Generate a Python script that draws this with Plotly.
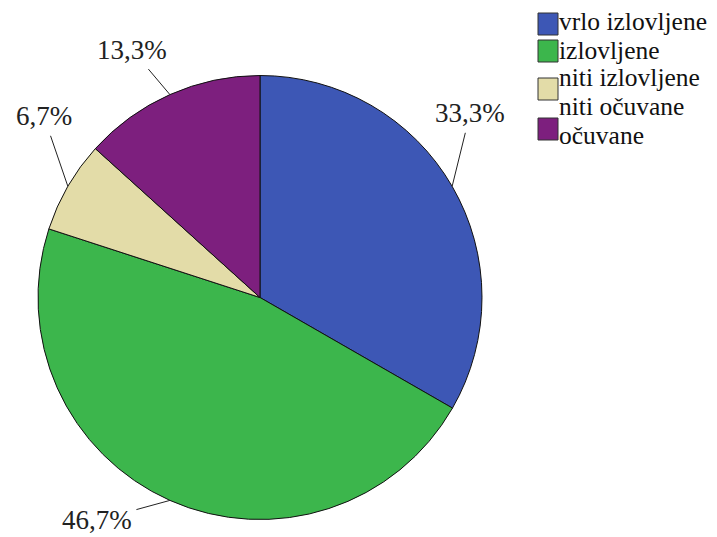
import math
import plotly.graph_objects as go

# Data
categories = ["vrlo izlovljene", "izlovljene", "niti izlovljene niti očuvane", "očuvane"]
legend_lines = [["vrlo izlovljene"], ["izlovljene"], ["niti izlovljene", "niti očuvane"], ["očuvane"]]
percentages = [33.3, 46.7, 6.7, 13.3]
value_labels = ["33,3%", "46,7%", "6,7%", "13,3%"]
colors = ["#3d57b5", "#3cb64c", "#e3dca8", "#7d1f7e"]

W, H = 717, 537
CX, CY, R = 260, 297.5, 222  # pie centre / radius in pixels
SERIF = "Liberation Serif, Times New Roman, serif"

fig = go.Figure(
    go.Pie(
        labels=categories,
        values=percentages,
        marker=dict(colors=colors, line=dict(color="#111111", width=1)),
        sort=False,
        direction="clockwise",
        rotation=0,
        textinfo="none",
        hoverinfo="label+percent",
        showlegend=False,
        domain=dict(x=[(CX - R) / W, (CX + R) / W],
                    y=[1 - (CY + R) / H, 1 - (CY - R) / H]),
    )
)

# Outside value labels with leader lines, anchored at each slice's mid-angle
label_offsets = [(18, -73), (-73, 20), (-24, -70), (-38, -45)]
total = sum(percentages)
cum = 0.0
for val, txt, (ox, oy) in zip(percentages, value_labels, label_offsets):
    mid = (cum + val / 2) / total * 2 * math.pi
    cum += val
    px = CX + R * math.sin(mid)
    py = CY - R * math.cos(mid)
    fig.add_annotation(
        x=px / W, y=1 - py / H, xref="paper", yref="paper",
        text=txt, showarrow=True, arrowhead=0, arrowwidth=1, arrowcolor="#222222",
        ax=ox, ay=oy, borderpad=4,
        font=dict(family=SERIF, size=27, color="#222222"),
    )

# Legend: colour swatches with category names
swatch_rows = [24, 51, 89, 129]
text_rows = [[22], [51], [78, 106], [135]]
for lines, col, ys, yt in zip(legend_lines, colors, swatch_rows, text_rows):
    fig.add_shape(
        type="rect", xref="paper", yref="paper",
        x0=538 / W, x1=558 / W, y0=1 - (ys + 11) / H, y1=1 - (ys - 11) / H,
        fillcolor=col, line=dict(color="#333333", width=1),
    )
    for line, yc in zip(lines, yt):
        fig.add_annotation(
            x=557 / W, y=1 - yc / H, xref="paper", yref="paper",
            text=line, showarrow=False, xanchor="left", yanchor="middle", align="left",
            font=dict(family=SERIF, size=25.5, color="#111111"),
        )

fig.update_layout(
    width=W, height=H,
    margin=dict(l=0, r=0, t=0, b=0),
    paper_bgcolor="white", plot_bgcolor="white",
)

fig.write_html("out.html")
